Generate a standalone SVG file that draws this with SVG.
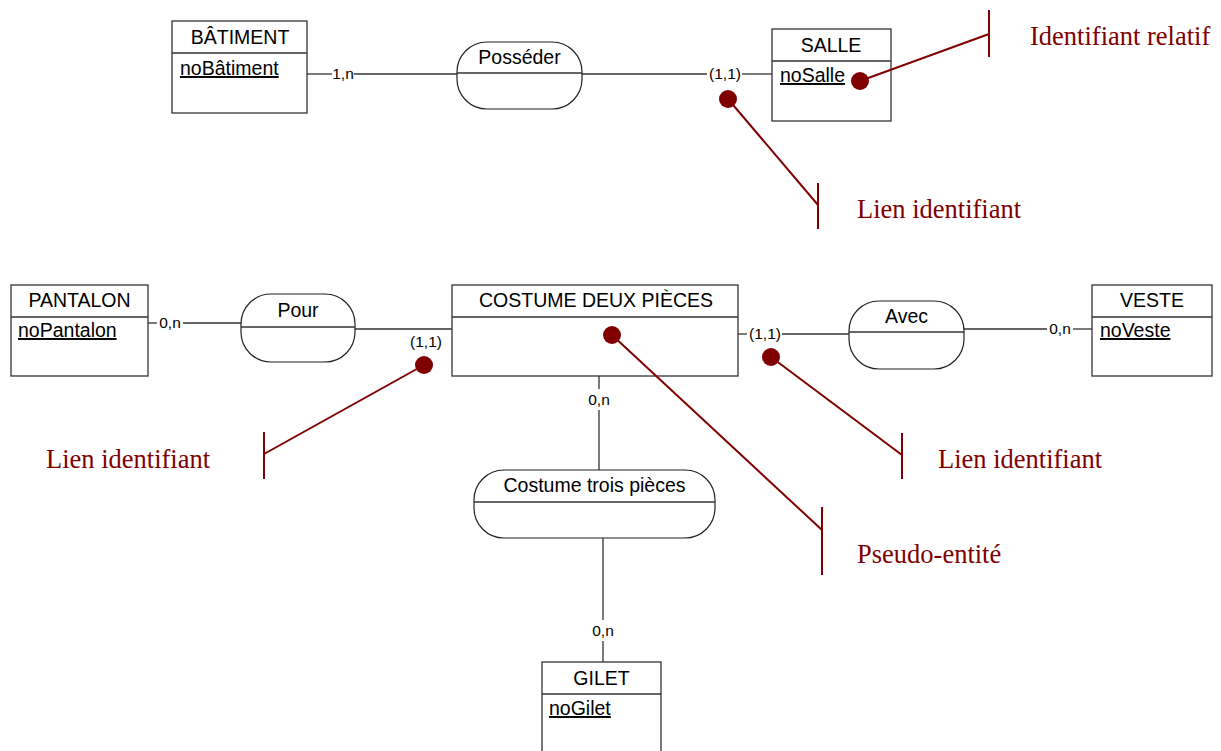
<svg xmlns="http://www.w3.org/2000/svg" width="1221" height="751" viewBox="0 0 1221 751">
<style>
.box{fill:#fff;stroke:#333;stroke-width:1.3}
.sep{stroke:#333;stroke-width:1.3}
.assoc{fill:#fff;stroke:#222;stroke-width:1.2}
.t{font-family:"Liberation Sans",Arial,sans-serif;font-size:19.5px;fill:#000}
.tc{text-anchor:middle}
.u{text-decoration:underline}
.card{font-family:"Liberation Sans",Arial,sans-serif;font-size:15.5px;fill:#000;text-anchor:middle}
.ln{stroke:#333;stroke-width:1.3;fill:none}
.ann{stroke:#800000;stroke-width:2;fill:none}
.dot{fill:#800000}
.note{font-family:"Liberation Serif","Times New Roman",serif;font-size:26.5px;fill:#800000}
</style>
<rect width="1221" height="751" fill="#fff"/>
<g id="connectors">
  <line class="ln" x1="307" y1="74" x2="332" y2="74"/>
  <line class="ln" x1="354" y1="74" x2="457" y2="74"/>
  <line class="ln" x1="582" y1="74" x2="707" y2="74"/>
  <line class="ln" x1="742" y1="74" x2="772" y2="74"/>
  <text class="card" x="343" y="79">1,n</text>
  <text class="card" x="725" y="79">(1,1)</text>

  <line class="ln" x1="148" y1="323" x2="157" y2="323"/>
  <line class="ln" x1="183" y1="323" x2="241" y2="323"/>
  <line class="ln" x1="355" y1="329" x2="452" y2="329"/>
  <text class="card" x="170" y="328">0,n</text>
  <text class="card" x="426" y="347">(1,1)</text>

  <line class="ln" x1="738" y1="334" x2="747" y2="334"/>
  <line class="ln" x1="782" y1="334" x2="849" y2="334"/>
  <line class="ln" x1="964" y1="329" x2="1047" y2="329"/>
  <line class="ln" x1="1073" y1="329" x2="1092" y2="329"/>
  <text class="card" x="765" y="339">(1,1)</text>
  <text class="card" x="1060" y="334">0,n</text>

  <line class="ln" x1="599" y1="376" x2="599" y2="389"/>
  <line class="ln" x1="599" y1="410" x2="599" y2="470"/>
  <text class="card" x="599" y="405">0,n</text>

  <line class="ln" x1="603" y1="538" x2="603" y2="620"/>
  <line class="ln" x1="603" y1="641" x2="603" y2="662"/>
  <text class="card" x="603" y="636">0,n</text>
</g>
<g id="batiment">
  <rect class="box" x="172" y="21" width="135" height="92"/>
  <line class="sep" x1="172" y1="53" x2="307" y2="53"/>
  <text class="t tc" x="240" y="44">BÂTIMENT</text>
  <text class="t u" x="180" y="75">noBâtiment</text>
</g>
<g id="posseder">
  <rect class="assoc" x="457" y="42" width="125" height="67" rx="30" ry="30"/>
  <line class="sep" x1="457" y1="73" x2="582" y2="73"/>
  <text class="t tc" x="519.5" y="64">Posséder</text>
</g>
<g id="salle">
  <rect class="box" x="772" y="29" width="119" height="92"/>
  <line class="sep" x1="772" y1="61" x2="891" y2="61"/>
  <text class="t tc" x="831" y="52">SALLE</text>
  <text class="t u" x="780" y="82">noSalle</text>
</g>
<g id="pantalon">
  <rect class="box" x="11" y="285" width="137" height="91"/>
  <line class="sep" x1="11" y1="317" x2="148" y2="317"/>
  <text class="t tc" x="79.5" y="307">PANTALON</text>
  <text class="t u" x="18" y="337">noPantalon</text>
</g>
<g id="pour">
  <rect class="assoc" x="241" y="294" width="114" height="68" rx="30" ry="30"/>
  <line class="sep" x1="241" y1="327" x2="355" y2="327"/>
  <text class="t tc" x="298" y="317">Pour</text>
</g>
<g id="costume-deux-pieces">
  <rect class="box" x="452" y="285" width="286" height="91"/>
  <line class="sep" x1="452" y1="317" x2="738" y2="317"/>
  <text class="t tc" x="596" y="307">COSTUME DEUX PIÈCES</text>
</g>
<g id="avec">
  <rect class="assoc" x="849" y="301" width="115" height="68" rx="30" ry="30"/>
  <line class="sep" x1="849" y1="332" x2="964" y2="332"/>
  <text class="t tc" x="906.5" y="323">Avec</text>
</g>
<g id="veste">
  <rect class="box" x="1092" y="285" width="120" height="91"/>
  <line class="sep" x1="1092" y1="317" x2="1212" y2="317"/>
  <text class="t tc" x="1152" y="307">VESTE</text>
  <text class="t u" x="1100" y="337">noVeste</text>
</g>
<g id="costume-trois-pieces">
  <rect class="assoc" x="474" y="470" width="241" height="68" rx="30" ry="30"/>
  <line class="sep" x1="474" y1="502" x2="715" y2="502"/>
  <text class="t tc" x="594.5" y="492">Costume trois pièces</text>
</g>
<g id="gilet">
  <rect class="box" x="542" y="662" width="119" height="100"/>
  <line class="sep" x1="542" y1="694" x2="661" y2="694"/>
  <text class="t tc" x="601.5" y="685">GILET</text>
  <text class="t u" x="549" y="715">noGilet</text>
</g>
<g id="annotations">
  <circle class="dot" cx="860" cy="81" r="9"/>
  <polyline class="ann" points="860,81 989,34"/>
  <line class="ann" x1="989" y1="10" x2="989" y2="57"/>
  <text class="note" x="1030" y="45">Identifiant relatif</text>

  <circle class="dot" cx="728" cy="99" r="9"/>
  <polyline class="ann" points="728,99 818,205"/>
  <line class="ann" x1="818" y1="183" x2="818" y2="229"/>
  <text class="note" x="857" y="218">Lien identifiant</text>

  <circle class="dot" cx="424" cy="365" r="9"/>
  <polyline class="ann" points="424,365 264,454"/>
  <line class="ann" x1="264" y1="432" x2="264" y2="479"/>
  <text class="note" x="46" y="468">Lien identifiant</text>

  <circle class="dot" cx="612" cy="335" r="9"/>
  <polyline class="ann" points="612,335 822,530"/>
  <line class="ann" x1="822" y1="507" x2="822" y2="575"/>
  <text class="note" x="857" y="563">Pseudo-entité</text>

  <circle class="dot" cx="771" cy="357" r="9"/>
  <polyline class="ann" points="771,357 902,455"/>
  <line class="ann" x1="902" y1="433" x2="902" y2="479"/>
  <text class="note" x="938" y="468">Lien identifiant</text>
</g>
</svg>
